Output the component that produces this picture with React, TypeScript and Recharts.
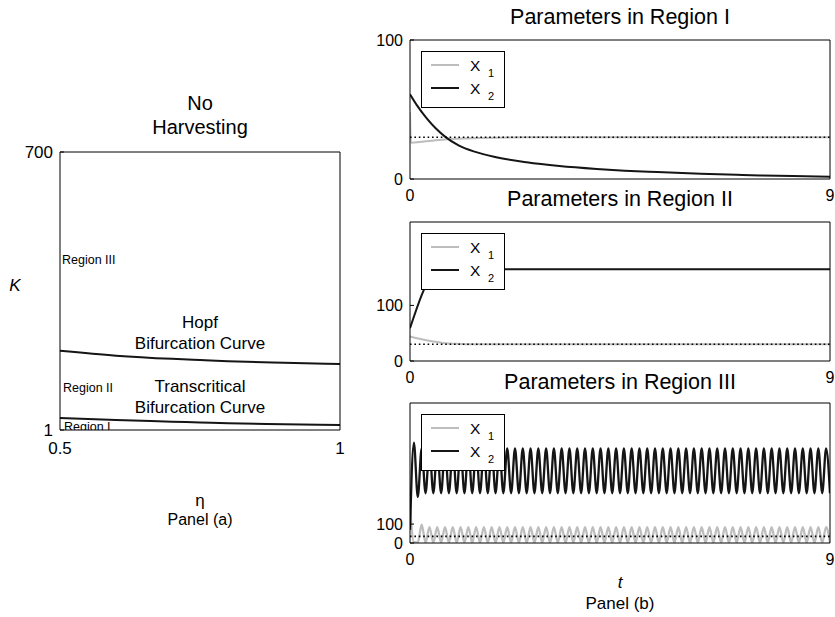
import React from 'react';
import { LineChart, Line, XAxis, YAxis, ReferenceLine, Legend } from 'recharts';

const FONT = '"Liberation Sans", Arial, Helvetica, sans-serif';
const GREY = '#bdbdbd';
const BLACK = '#151515';

// Panel (a): bifurcation curves over eta
const etaValues = [0.5, 0.6, 0.7, 0.75, 0.8, 0.9, 1];
const hopfK = [200, 188, 180, 177, 174, 170, 167];
const transcriticalK = [31, 26, 22, 20, 18, 15.5, 13.5];
const etaTicks = [0.5, 1];
const kTicks = [1, 700];

// Panel (b): time series, t from 0 to 9
const timeTicks = [0, 9];

// Region I
const r1TimeX1 = [0, 0.02, 0.3, 0.75, 1.5, 2.5, 9];
const r1X1 = [48, 26, 27, 28.5, 29.5, 30, 30];
const r1TimeX2 = [0, 0.15, 0.35, 0.55, 0.75, 1.05, 1.4, 1.8, 2.5, 3.2, 4, 4.6, 5.3, 6.1, 7, 7.5, 8.2, 9];
const r1X2 = [61, 53, 44, 36.5, 30.5, 24, 19.5, 16, 12, 9.3, 7.2, 6, 5, 4, 3, 2.6, 2.1, 1.7];

// Region II
const r2TimeX1 = [0, 0.25, 0.5, 0.75, 1, 1.3, 9];
const r2X1 = [44, 39, 35, 32, 31, 30, 30];
const r2TimeX2 = [0, 0.5, 0.6, 9];
const r2X2 = [59, 158, 165, 165];

// Region III, sampled every half period (9 / 108), 109 samples each
const r3X2 = [
  70, 531, 243,
  500, 263, 500, 263, 500, 263, 500, 263, 500, 263,
  500, 263, 500, 263, 500, 263, 500, 263, 500, 263,
  500, 263, 500, 263, 500, 263, 500, 263, 500, 263,
  500, 263, 500, 263, 500, 263, 500, 263, 500, 263,
  500, 263, 500, 263, 500, 263, 500, 263, 500, 263,
  500, 263, 500, 263, 500, 263, 500, 263, 500, 263,
  500, 263, 500, 263, 500, 263, 500, 263, 500, 263,
  500, 263, 500, 263, 500, 263, 500, 263, 500, 263,
  500, 263, 500, 263, 500, 263, 500, 263, 500, 263,
  500, 263, 500, 263, 500, 263, 500, 263, 500, 263,
  500, 263, 500, 263, 500, 263,
];
const r3X1 = [
  200, 4, 2, 97, 2,
  84, 2, 84, 2, 84, 2, 84, 2, 84, 2,
  84, 2, 84, 2, 84, 2, 84, 2, 84, 2,
  84, 2, 84, 2, 84, 2, 84, 2, 84, 2,
  84, 2, 84, 2, 84, 2, 84, 2, 84, 2,
  84, 2, 84, 2, 84, 2, 84, 2, 84, 2,
  84, 2, 84, 2, 84, 2, 84, 2, 84, 2,
  84, 2, 84, 2, 84, 2, 84, 2, 84, 2,
  84, 2, 84, 2, 84, 2, 84, 2, 84, 2,
  84, 2, 84, 2, 84, 2, 84, 2, 84, 2,
  84, 2, 84, 2, 84, 2, 84, 2, 84, 2,
  84, 2, 84, 2,
];
const r3Step = 9 / 108;

// dotted X1 equilibrium per region
const x1Equilibrium = [30, 30, 35];

const pairs = (ts: number[], vs: number[]) => ts.map((t, i) => ({ t, v: vs[i] }));
const sampled = (vs: number[]) => vs.map((v, i) => ({ t: i * r3Step, v }));

const bifurcationData = etaValues.map((eta, i) => ({
  eta,
  hopf: hopfK[i],
  transcritical: transcriticalK[i],
}));

function Txt({ x, y, size, children, align = 'center', italic = false }: any) {
  return (
    <div
      style={{
        position: 'absolute',
        left: x,
        top: y,
        transform: align === 'center' ? 'translate(-50%, -50%)' : 'translate(0, -50%)',
        fontSize: size,
        lineHeight: 1,
        whiteSpace: 'nowrap',
        fontStyle: italic ? 'italic' : 'normal',
      }}
    >
      {children}
    </div>
  );
}

function SeriesLegend({ payload }: any) {
  const items = payload && payload.length ? payload : [
    { value: 'X1', color: GREY },
    { value: 'X2', color: BLACK },
  ];
  return (
    <svg width={84} height={57} style={{ display: 'block' }}>
      <rect x={0.5} y={0.5} width={83} height={56} fill="#fff" stroke="#000" strokeWidth={1} />
      {items.map((item: any, i: number) => {
        const cy = 14 + i * 23;
        return (
          <g key={item.value}>
            <line x1={10} x2={38} y1={cy} y2={cy} stroke={item.color} strokeWidth={2} />
            <text x={49} y={cy + 5.5} fontSize={15.5} fill="#000">X</text>
            <text x={67} y={cy + 12} fontSize={11} fill="#000">{i + 1}</text>
          </g>
        );
      })}
    </svg>
  );
}

function TimePanel({ top, height, x1, x2, domain, eq, width }: any) {
  const tickStyle = { fill: '#000', fontSize: 16 };
  return (
    <div style={{ position: 'absolute', left: 350, top }}>
      <LineChart width={485} height={height} margin={{ top: 9, right: 4, bottom: 0, left: 0 }}>
        <XAxis
          type="number"
          dataKey="t"
          domain={[0, 9]}
          ticks={timeTicks}
          interval={0}
          tickLine={false}
          tickSize={4}
          tickMargin={7}
          height={30}
          stroke="#000"
          tick={tickStyle}
          allowDataOverflow
        />
        <XAxis xAxisId="top" orientation="top" type="number" domain={[0, 9]} height={1} tick={false} tickLine={false} stroke="#000" />
        <YAxis
          type="number"
          domain={domain}
          ticks={[0, 100]}
          interval={0}
          width={60}
          tickSize={-4}
          tickMargin={11}
          stroke="#000"
          tick={tickStyle}
          allowDataOverflow
        />
        <YAxis yAxisId="right" orientation="right" type="number" domain={domain} ticks={[0, 100]} interval={0} width={1} tickSize={-4} tick={false} stroke="#000" />
        <Line data={x1} dataKey="v" name="X1" type="monotone" stroke={GREY} strokeWidth={width} dot={false} isAnimationActive={false} />
        <Line data={x2} dataKey="v" name="X2" type="monotone" stroke={BLACK} strokeWidth={width} dot={false} isAnimationActive={false} />
        <ReferenceLine y={eq} stroke="#000" strokeWidth={1.6} strokeDasharray="1.6 2.8" />
        <Legend
          layout="horizontal"
          verticalAlign="middle"
          align="center"
          content={<SeriesLegend />}
          wrapperStyle={{ left: 71, top: 21, width: 84, height: 57 }}
        />
      </LineChart>
    </div>
  );
}

export default function App() {
  return (
    <div
      style={{
        position: 'absolute',
        left: 0,
        top: 0,
        width: 835,
        height: 617,
        background: '#fff',
        color: '#000',
        fontFamily: FONT,
        overflow: 'hidden',
      }}
    >
      {/* Panel (a) */}
      <Txt x={200} y={103} size={20}>No</Txt>
      <Txt x={200} y={127} size={20}>Harvesting</Txt>
      <div style={{ position: 'absolute', left: 0, top: 140 }}>
        <LineChart width={360} height={320} data={bifurcationData} margin={{ top: 11, right: 19, bottom: 0, left: 0 }}>
          <XAxis
            type="number"
            dataKey="eta"
            domain={[0.5, 1]}
            ticks={etaTicks}
            interval={0}
            tickFormatter={(v) => String(v)}
            tickLine={false}
            tickSize={4}
            tickMargin={8}
            height={30}
            stroke="#000"
            tick={{ fill: '#000', fontSize: 17 }}
          />
          <XAxis xAxisId="top" orientation="top" type="number" dataKey="eta" domain={[0.5, 1]} height={1} tick={false} tickLine={false} stroke="#000" />
          <YAxis
            type="number"
            domain={[1, 700]}
            ticks={kTicks}
            interval={0}
            width={60}
            tickSize={-4}
            tickMargin={11}
            stroke="#000"
            tick={{ fill: '#000', fontSize: 17 }}
          />
          <YAxis yAxisId="right" orientation="right" type="number" domain={[1, 700]} ticks={kTicks} width={1} tick={false} tickLine={false} stroke="#000" />
          <Line dataKey="hopf" type="monotone" stroke={BLACK} strokeWidth={2} dot={false} isAnimationActive={false} />
          <Line dataKey="transcritical" type="monotone" stroke={BLACK} strokeWidth={2} dot={false} isAnimationActive={false} />
        </LineChart>
      </div>
      <Txt x={15} y={285} size={17} italic>K</Txt>
      <Txt x={62} y={260} size={12.5} align="start">Region III</Txt>
      <Txt x={200} y={322} size={17}>Hopf</Txt>
      <Txt x={200} y={343} size={17}>Bifurcation Curve</Txt>
      <Txt x={63} y={388} size={12.5} align="start">Region II</Txt>
      <Txt x={200} y={386} size={17}>Transcritical</Txt>
      <Txt x={200} y={407} size={17}>Bifurcation Curve</Txt>
      <div style={{ position: 'absolute', left: 64, top: 421, width: 80, height: 9, overflow: 'hidden' }}>
        <div style={{ position: 'absolute', left: 0, top: 0, fontSize: 12.5, lineHeight: 1, whiteSpace: 'nowrap' }}>Region I</div>
      </div>
      <Txt x={200} y={500} size={17}>η</Txt>
      <Txt x={200} y={520} size={16}>Panel (a)</Txt>

      {/* Panel (b) */}
      <Txt x={620} y={18} size={21.5}>Parameters in Region I</Txt>
      <TimePanel
        top={30}
        height={179}
        x1={pairs(r1TimeX1, r1X1)}
        x2={pairs(r1TimeX2, r1X2)}
        domain={[0, 100]}
        eq={x1Equilibrium[0]}
        width={2}
      />
      <Txt x={620} y={200} size={21.5}>Parameters in Region II</Txt>
      <TimePanel
        top={212}
        height={179}
        x1={pairs(r2TimeX1, r2X1)}
        x2={pairs(r2TimeX2, r2X2)}
        domain={[0, 250]}
        eq={x1Equilibrium[1]}
        width={2}
      />
      <Txt x={620} y={383} size={21.5}>Parameters in Region III</Txt>
      <TimePanel
        top={393}
        height={180}
        x1={sampled(r3X1)}
        x2={sampled(r3X2)}
        domain={[0, 740]}
        eq={x1Equilibrium[2]}
        width={2.3}
      />
      <Txt x={620} y={582} size={17} italic>t</Txt>
      <Txt x={620} y={603} size={17}>Panel (b)</Txt>
    </div>
  );
}
